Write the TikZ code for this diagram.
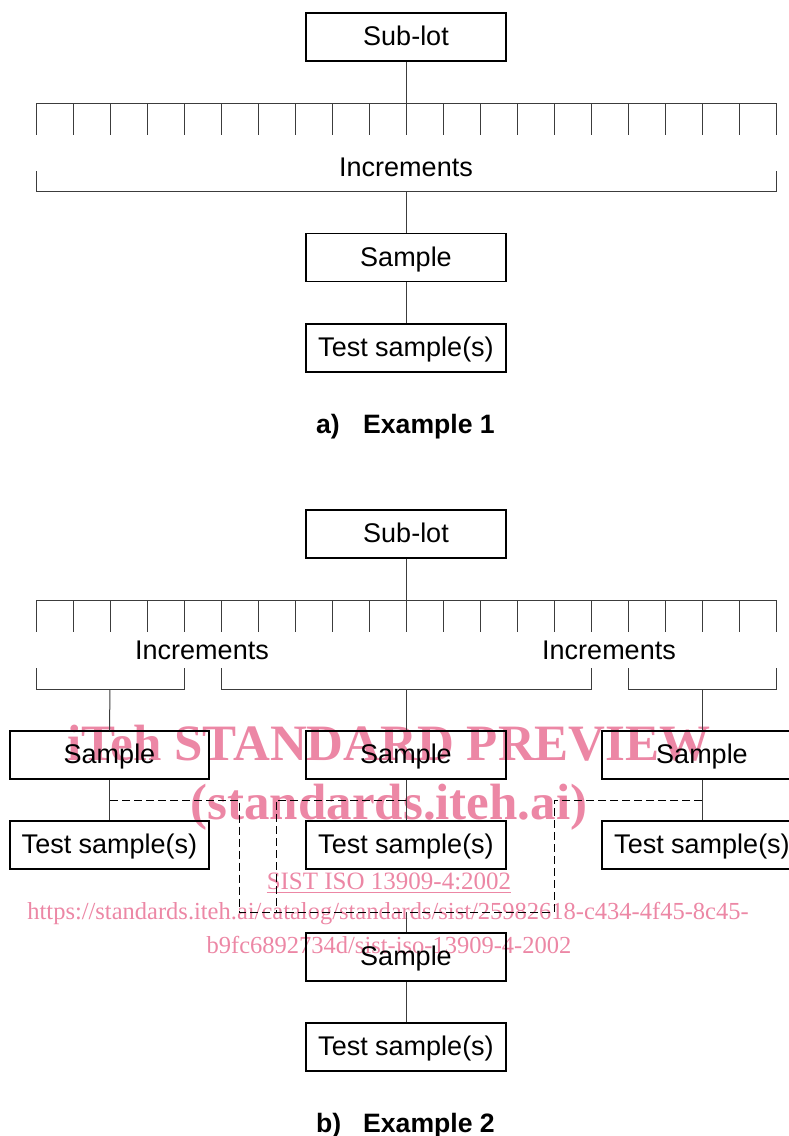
\documentclass[tikz,border=0pt]{standalone}
\usepackage{fontspec}
\setmainfont{Liberation Sans}
\newfontfamily\wmfont{Liberation Serif}
\definecolor{wmpink}{RGB}{236,135,165}
\definecolor{lnc}{RGB}{60,60,60}
\begin{document}
\begin{tikzpicture}[x=1pt,y=-1pt,
  box/.style={draw=black,line width=1.5pt,minimum width=200pt,minimum height=48pt,inner sep=0pt,
    font=\fontsize{27}{30}\selectfont,text height=21pt,text depth=4pt},
  lbl/.style={inner sep=0pt,font=\fontsize{27}{30}\selectfont,text height=21pt,text depth=4pt},
  ttl/.style={inner sep=0pt,anchor=base west,font=\fontsize{26.6}{30}\selectfont\bfseries},
  ln/.style={draw=lnc,line width=1pt},
  dsh/.style={draw=black,line width=0.8pt,dash pattern=on 8pt off 4pt},
  wm/.style={inner sep=0pt,anchor=base,text=wmpink}]
\useasboundingbox (0,0) rectangle (789,1136);

% ---------------- watermark ----------------
\node[wm,font=\wmfont\bfseries\fontsize{51}{55}\selectfont] (w1) at (389,760) {iTeh STANDARD PREVIEW};
\node[wm,font=\wmfont\bfseries\fontsize{51}{55}\selectfont] (w2) at (389,819) {(standards.iteh.ai)};
\node[wm,font=\wmfont\fontsize{25}{28}\selectfont] (w3) at (389,889) {SIST ISO 13909-4:2002};
\draw[wmpink,line width=1pt] ([yshift=-3pt]w3.base west) -- ([yshift=-3pt]w3.base east);
\node[wm,font=\wmfont\fontsize{24.5}{28}\selectfont] (w4) at (388,919) {https://standards.iteh.ai/catalog/standards/sist/25982618-c434-4f45-8c45-};
\node[wm,font=\wmfont\fontsize{24.5}{28}\selectfont] (w5) at (389,953) {b9fc6892734d/sist-iso-13909-4-2002};

% ---------------- Example 1 ----------------
\node[box] (sub1) at (406,37) {Sub-lot};
\coordinate (c1) at (406,103);
\draw[ln] (sub1.south) -- (c1);
\draw[ln] (36,103) -- (776,103);
\foreach \i in {0,...,20} \draw[ln] (36+37*\i,103) -- (36+37*\i,135);
\node[lbl] (inc1) at (406,168) {Increments};
\draw[ln] (36,171) -- (36,191) -- (776,191) -- (776,171);
\coordinate (b1) at (406,191);
\node[box] (sam1) at (406,257.5) {Sample};
\node[box] (ts1) at (406,348) {Test sample(s)};
\draw[ln] (b1) -- (sam1.north);
\draw[ln] (sam1.south) -- (ts1.north);
\node[ttl] (ta) at (316,433) {a)};
\node[ttl] (tb) at (363,433) {Example 1};

% ---------------- Example 2 ----------------
\node[box] (sub2) at (406,534) {Sub-lot};
\coordinate (c2) at (406,600);
\draw[ln] (sub2.south) -- (c2);
\draw[ln] (36,600) -- (776,600);
\foreach \i in {0,...,20} \draw[ln] (36+37*\i,600) -- (36+37*\i,632);
\node[lbl] (incL) at (202,651) {Increments};
\node[lbl] (incR) at (609,651) {Increments};
\draw[ln] (36,668) -- (36,689) -- (184,689) -- (184,668);
\draw[ln] (221,668) -- (221,689) -- (591,689) -- (591,668);
\draw[ln] (628,668) -- (628,689) -- (776,689) -- (776,668);
\coordinate (bL) at (110,689);
\coordinate (bM) at (406,689);
\coordinate (bR) at (702,689);
\node[box,minimum width=199pt] (sL) at (109.5,755) {Sample};
\node[box] (sM) at (406,755) {Sample};
\node[box] (sR) at (702,755) {Sample};
\node[box,minimum width=199pt] (tL) at (109.5,845) {Test sample(s)};
\node[box] (tM) at (406,845) {Test sample(s)};
\node[box] (tR) at (702,845) {Test sample(s)};
\draw[ln] (bL) -- (sL.north);
\draw[ln] (bM) -- (sM.north);
\draw[ln] (bR) -- (sR.north);
\draw[ln] (sL.south) -- (tL.north);
\draw[ln] (sM.south) -- (tM.north);
\draw[ln] (sR.south) -- (tR.north);

\node[box] (s2) at (406,957) {Sample};
\node[box] (t2) at (406,1047) {Test sample(s)};
\coordinate (dL) at (110,800);
\coordinate (dM) at (406,800);
\coordinate (dR) at (702,800);
\coordinate (j) at (406,912);
\draw[dsh] (dL) -- (239.5,800) -- (239.5,912) -- (j);
\draw[dsh] (dM) -- (276,800) -- (276,912);
\draw[dsh] (dR) -- (554,800) -- (554,912) -- (j);
\draw[ln] (j) -- (s2.north);
\draw[ln] (s2.south) -- (t2.north);
\node[ttl] (tc) at (316,1132) {b)};
\node[ttl] (td) at (363,1132) {Example 2};
\end{tikzpicture}
\end{document}
